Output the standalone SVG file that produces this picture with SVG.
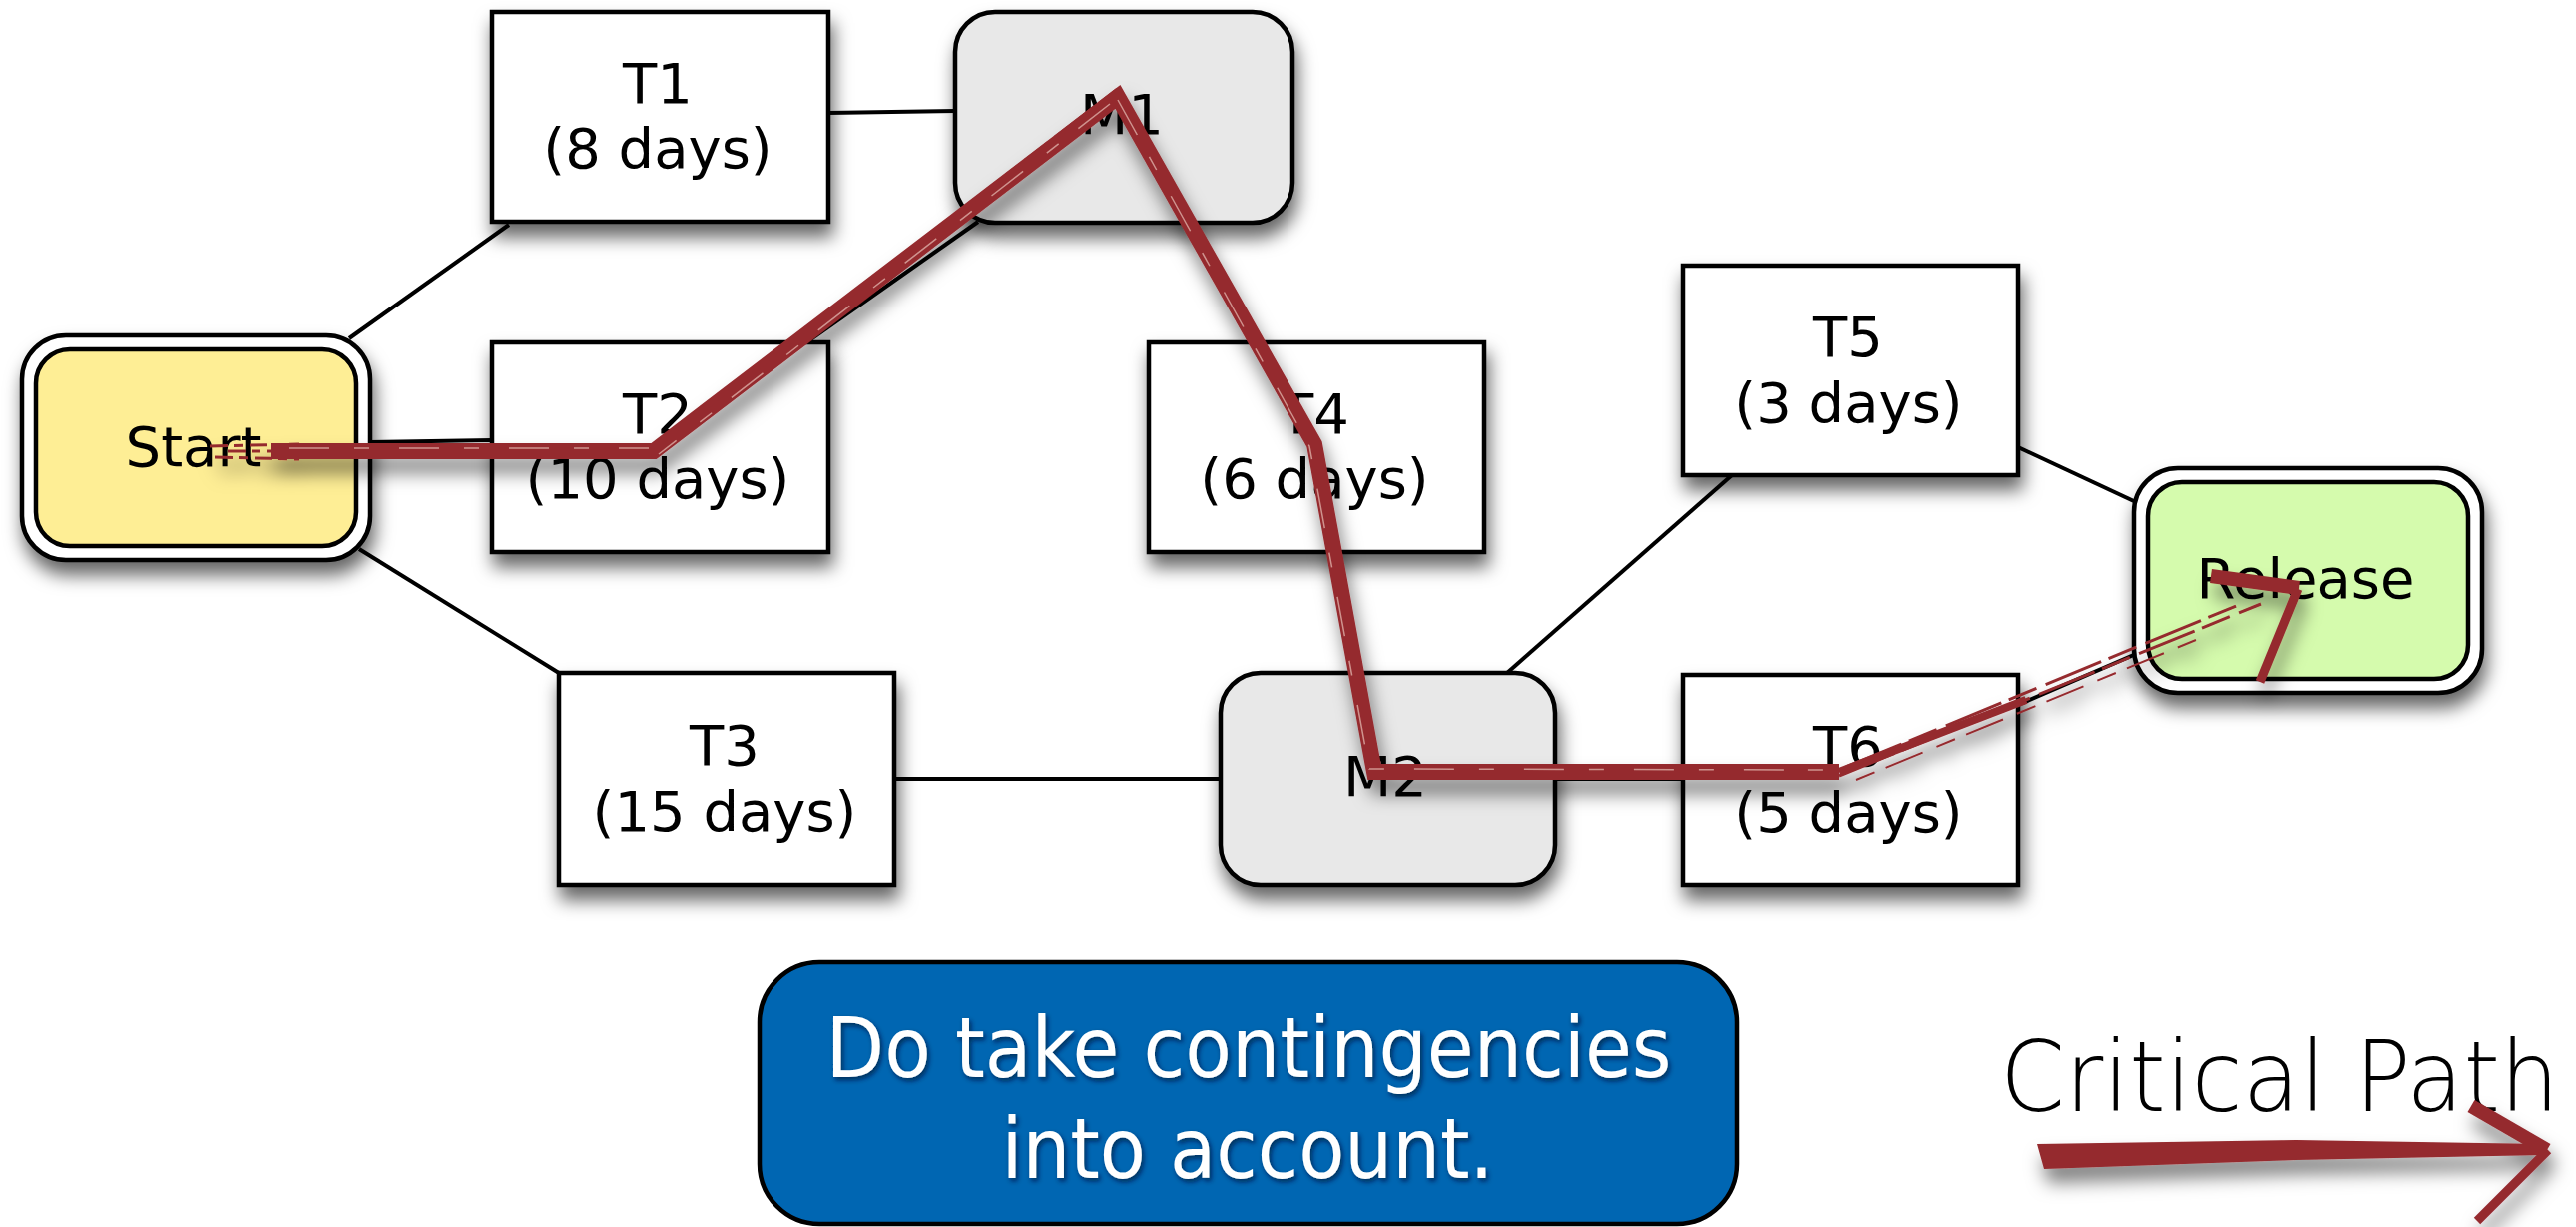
<svg xmlns="http://www.w3.org/2000/svg" width="2581" height="1229" viewBox="0 0 2581 1229">
  <style>
    .box { fill: #ffffff; stroke: #000; stroke-width: 4.5; }
    .mile { fill: #e8e8e8; stroke: #000; stroke-width: 4.5; }
    .outer { fill: #ffffff; stroke: #000; stroke-width: 4.5; }
    .lbl { font-family: "DejaVu Sans", "Liberation Sans", sans-serif; font-size: 56px; fill: #000; text-anchor: middle; }
    .conn line { stroke: #000; stroke-width: 4; }
    .red { fill: none; stroke: #952a2e; stroke-linecap: butt; }
    .streak { fill: none; stroke: #e8c0b8; stroke-width: 1.5; opacity: 0.7; }
  </style>
  <defs>
    <filter id="shadow" x="-20%" y="-20%" width="150%" height="170%">
      <feDropShadow dx="3" dy="13" stdDeviation="9" flood-color="#000" flood-opacity="0.6"/>
    </filter>
    <filter id="rshadow" x="-10%" y="-20%" width="130%" height="160%">
      <feDropShadow dx="4" dy="14" stdDeviation="9" flood-color="#000" flood-opacity="0.5"/>
    </filter>
    <filter id="tshadow" x="-10%" y="-20%" width="120%" height="150%">
      <feDropShadow dx="2" dy="3" stdDeviation="2.5" flood-color="#001530" flood-opacity="0.7"/>
    </filter>
  </defs>
  <rect width="2581" height="1229" fill="#ffffff"/>

  <g id="connectors" class="conn">
    <line x1="350" y1="339" x2="510" y2="225"/>
    <line x1="371" y1="443" x2="493" y2="441"/>
    <line x1="360" y1="550" x2="560" y2="674"/>
    <line x1="830" y1="113" x2="957" y2="111"/>
    <line x1="808" y1="343" x2="980" y2="222"/>
    <line x1="1190" y1="223" x2="1260" y2="343"/>
    <line x1="1340" y1="553" x2="1362" y2="674"/>
    <line x1="896" y1="780" x2="1223" y2="780"/>
    <line x1="1510" y1="674" x2="1735" y2="476"/>
    <line x1="1558" y1="780" x2="1686" y2="780"/>
    <line x1="2022" y1="448" x2="2140" y2="503"/>
    <line x1="2022" y1="706" x2="2140" y2="655"/>
  </g>

  <g id="start" filter="url(#shadow)">
    <rect class="outer" x="22" y="336" width="349" height="225" rx="44"/>
    <rect x="36" y="350" width="321" height="197" rx="34" fill="#feee95" stroke="#000" stroke-width="4.5"/>
    <text class="lbl" x="194" y="467">Start</text>
  </g>
  <g id="t1" filter="url(#shadow)">
    <rect class="box" x="493" y="12" width="337" height="210"/>
    <text class="lbl" x="659" y="103">T1</text>
    <text class="lbl" x="659" y="168">(8 days)</text>
  </g>
  <g id="t2" filter="url(#shadow)">
    <rect class="box" x="493" y="343" width="337" height="210"/>
    <text class="lbl" x="659" y="434">T2</text>
    <text class="lbl" x="659" y="499">(10 days)</text>
  </g>
  <g id="t3" filter="url(#shadow)">
    <rect class="box" x="560" y="674" width="336" height="212"/>
    <text class="lbl" x="726" y="766">T3</text>
    <text class="lbl" x="726" y="832">(15 days)</text>
  </g>
  <g id="m1" filter="url(#shadow)">
    <rect class="mile" x="957" y="12" width="338" height="211" rx="40"/>
    <text class="lbl" x="1124" y="134">M1</text>
  </g>
  <g id="t4" filter="url(#shadow)">
    <rect class="box" x="1151" y="343" width="336" height="210"/>
    <text class="lbl" x="1317" y="434">T4</text>
    <text class="lbl" x="1317" y="499">(6 days)</text>
  </g>
  <g id="m2" filter="url(#shadow)">
    <rect class="mile" x="1223" y="674" width="335" height="212" rx="40"/>
    <text class="lbl" x="1388" y="797">M2</text>
  </g>
  <g id="t5" filter="url(#shadow)">
    <rect class="box" x="1686" y="266" width="336" height="210"/>
    <text class="lbl" x="1852" y="357">T5</text>
    <text class="lbl" x="1852" y="423">(3 days)</text>
  </g>
  <g id="t6" filter="url(#shadow)">
    <rect class="box" x="1686" y="676" width="336" height="210"/>
    <text class="lbl" x="1852" y="767">T6</text>
    <text class="lbl" x="1852" y="833">(5 days)</text>
  </g>
  <g id="release" filter="url(#shadow)">
    <rect class="outer" x="2138" y="469" width="349" height="225" rx="44"/>
    <rect x="2152" y="483" width="321" height="197" rx="34" fill="#d5fbad" stroke="#000" stroke-width="4.5"/>
    <text class="lbl" x="2310" y="599">Release</text>
  </g>

  <g id="critical-path" filter="url(#rshadow)">
    <path class="red" stroke-width="16" stroke-linejoin="miter" stroke-miterlimit="10" d="M272,452 L655,452 L1120,97 L1317,445 L1377,773 L1843,773"/>
    <path class="red" stroke-width="5" stroke-dasharray="30 8 50 6" d="M655,448 L1120,90"/>
    <path class="red" stroke-width="3" stroke-dasharray="18 6 9 7" d="M210,447 L300,445 M215,458 L300,460 M228,452 L280,452"/>
    <path class="streak" stroke-dasharray="40 25 15 30" d="M290,449 L650,449 M1120,100 L1312,447 L1372,770 L1840,771 M1112,104 L660,455"/>
    <path class="red" stroke-width="8" d="M1843,773 L2030,701"/>
    <path class="red" stroke-width="3" stroke-dasharray="60 8 30 10" d="M1843,777 L2265,605 M1850,768 L2245,605"/>
    <path class="red" stroke-width="2" stroke-dasharray="20 12 40 15" d="M1860,781 L2200,641"/>
    <path class="red" stroke-width="14" d="M2215,577 L2303,589"/>
    <path class="red" stroke-width="9" d="M2302,590 L2264,683"/>
  </g>

  <g id="note">
    <rect x="761" y="964" width="979" height="262" rx="60" fill="#0066b2" stroke="#000" stroke-width="4.5"/>
    <g filter="url(#tshadow)" font-family="'DejaVu Sans', 'Liberation Sans', sans-serif" font-size="84" font-stretch="condensed" fill="#ffffff" text-anchor="middle">
      <text x="1251" y="1079" textLength="847" lengthAdjust="spacingAndGlyphs">Do take contingencies</text>
      <text x="1250" y="1180" textLength="493" lengthAdjust="spacingAndGlyphs">into account.</text>
    </g>
  </g>

  <g id="legend">
    <text x="2004" y="1113" font-family="'DejaVu Sans', 'Liberation Sans', sans-serif" font-size="98" font-weight="200" fill="#000" textLength="560" lengthAdjust="spacingAndGlyphs">Critical Path</text>
    <g filter="url(#rshadow)">
      <path d="M2041,1146 L2300,1142 L2548,1146 L2548,1157 L2300,1162 L2048,1171 Z" fill="#952a2e"/>
      <path class="red" stroke-width="14" d="M2476,1108 L2552,1152"/>
      <path class="red" stroke-width="9" d="M2553,1152 L2482,1223"/>
    </g>
  </g>
</svg>
